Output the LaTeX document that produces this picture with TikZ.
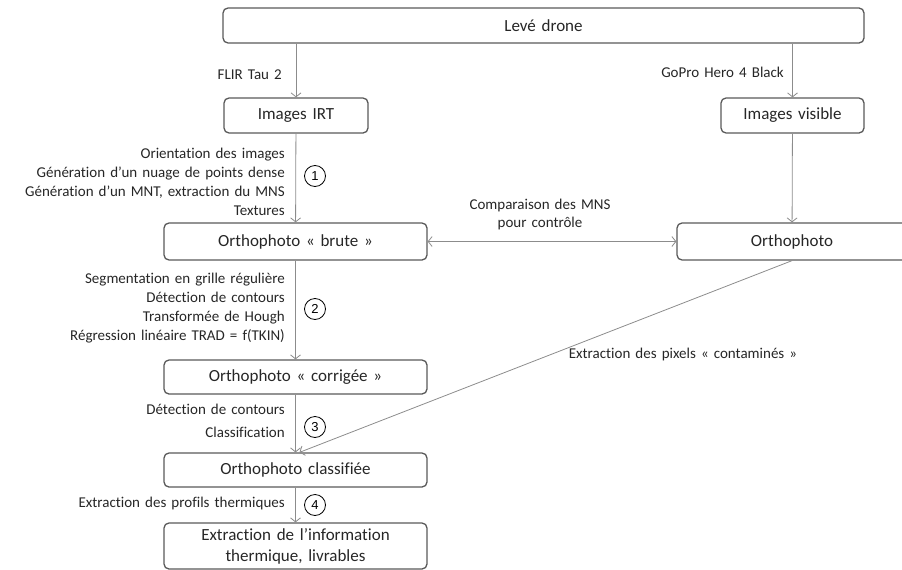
\documentclass[tikz,border=0pt]{standalone}
\usepackage{fontspec}
\setmainfont{Carlito}[Ligatures=NoCommon,WordSpace=1.5]
\newfontfamily\chiffre{Liberation Sans}
\usepackage{tikz}
\usetikzlibrary{arrows.meta}
\definecolor{boxgray}{HTML}{595959}
\definecolor{linegray}{HTML}{8C8C8C}

\begin{document}
\begin{tikzpicture}[x=1pt,y=-1pt,
  etape/.style={draw=boxgray,line width=1.3pt,rounded corners=5pt,align=center,inner sep=0pt,
    font=\fontsize{17}{21}\selectfont,text=black!85},
  fleche/.style={draw=linegray,line width=0.8pt,>={Straight Barb[length=4pt,width=10pt]}},
  legende/.style={anchor=east,align=right,inner sep=0pt,font=\fontsize{15}{19}\selectfont,text=black!85},
  numero/.style={draw,circle,line width=0.8pt,minimum size=21pt,inner sep=0pt,font=\chiffre\fontsize{13}{13}\selectfont}]
\useasboundingbox (0,0) rectangle (902,570);

% boites
\node[etape,minimum width=641,minimum height=35] (drone) at (543.5,25.5) {Levé drone};
\node[etape,minimum width=144,minimum height=35] (irt) at (296,115.5) {Images IRT};
\node[etape,minimum width=143,minimum height=35] (vis) at (792.5,115.5) {Images visible};
\node[etape,minimum width=263,minimum height=37] (brute) at (295.5,241.5) {Orthophoto « brute »};
\node[etape,minimum width=230,minimum height=37] (ortho) at (792,241.5) {Orthophoto};
\node[etape,minimum width=263,minimum height=34] (corr) at (295.5,377) {Orthophoto « corrigée »};
\node[etape,minimum width=263,minimum height=34] (classif) at (295.5,470) {Orthophoto classifiée};
\node[etape,minimum width=263,minimum height=46] (final) at (295.5,546) {Extraction de l’information\\thermique, livrables};

% fleches
\draw[fleche,->] (irt.north |- drone.south) -- (irt.north);
\draw[fleche,->] (vis.north |- drone.south) -- (vis.north);
\draw[fleche,->] (irt) -- (brute);
\draw[fleche,->] (vis) -- (ortho);
\draw[fleche,<->] (brute) -- (ortho);
\draw[fleche,->] (brute) -- (corr);
\draw[fleche,->] (corr) -- (classif);
\draw[fleche,->] (ortho.south) -- ([xshift=4pt]classif.north);
\draw[fleche,->] (classif) -- (final);

% legendes
\node[legende] (flir) at (282,75) {FLIR Tau 2};
\node[legende] (gopro) at (784,72.5) {GoPro Hero 4 Black};
\node[legende] (t1) at (285,181.5) {Orientation des images\\Génération d’un nuage de points dense\\Génération d’un MNT, extraction du MNS\\Textures};
\node[legende] (t2) at (285,308) {Segmentation en grille régulière\\Détection de contours\\Transformée de Hough\\Régression linéaire TRAD = f(TKIN)};
\node[legende,font=\fontsize{15}{23}\selectfont] (t3) at (285,420.5) {Détection de contours\\Classification};
\node[legende] (t4) at (285,503) {Extraction des profils thermiques};
\node[align=center,inner sep=0pt,font=\fontsize{15}{18}\selectfont,text=black!85] (comp) at (540,214) {Comparaison des MNS\\pour contrôle};
\node[inner sep=0pt,font=\fontsize{15}{19}\selectfont,text=black!85] (contam) at (683,354) {Extraction des pixels « contaminés »};

% etapes numerotees
\foreach \n/\y in {1/176,2/309,3/427,4/505}{
\node[numero] (n\n) at (315,\y) {\n};
}
\end{tikzpicture}
\end{document}
